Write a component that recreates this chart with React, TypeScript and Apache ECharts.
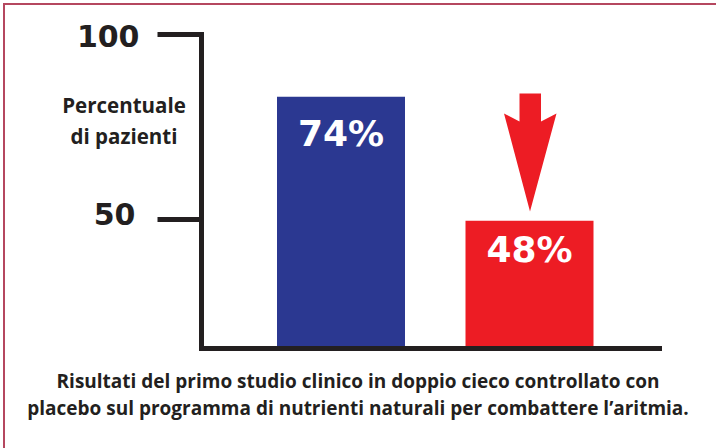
import React, { useEffect, useRef } from "react";
import * as echarts from "echarts";

const categories = ["Placebo", "Programma di nutrienti"];
const percentages = [74, 48];
const barColors = ["#2B3891", "#ED1C24"];
const tickValues = [50, 100];
const yTitleLines = ["Percentuale", "di pazienti"];
const captionLines = [
  "Risultati del primo studio clinico in doppio cieco controllato con",
  "placebo sul programma di nutrienti naturali per combattere l\u2019aritmia.",
];

const INK = "#231F20";

export default function App() {
  const ref = useRef<HTMLDivElement>(null);
  useEffect(() => {
    if (!ref.current) return;
    const chart = echarts.init(ref.current, null, { renderer: "svg" });
    const labelDist = [19, 11];
    chart.setOption({
      animation: false,
      backgroundColor: "#ffffff",
      grid: [
        { left: 201.5, right: 56.5, top: 34.5, bottom: 100 },
        { left: 246.75, right: 92.25, top: 34.5, bottom: 100 },
      ],
      xAxis: [
        {
          type: "value",
          gridIndex: 0,
          min: 0,
          max: 1,
          z: 10,
          axisLine: { show: true, lineStyle: { color: INK, width: 5, cap: "square" } },
          axisTick: { show: false },
          axisLabel: { show: false },
          splitLine: { show: false },
        },
        {
          type: "category",
          gridIndex: 1,
          data: categories,
          show: false,
        },
      ],
      yAxis: [
        {
          type: "value",
          gridIndex: 0,
          min: 15.3,
          max: 100,
          z: 10,
          axisLine: { show: true, lineStyle: { color: INK, width: 5, cap: "square" } },
          axisTick: {
            show: true,
            inside: false,
            length: 44,
            customValues: tickValues,
            lineStyle: { color: INK, width: 5 },
          },
          axisLabel: {
            show: true,
            customValues: tickValues,
            margin: 62,
            formatter: (v: number) => (v === 100 ? "{a|" + v + "}" : "{b|" + v + "}"),
            rich: {
              a: {
                fontFamily: "DejaVu Sans",
                fontWeight: "bold",
                fontSize: 30,
                color: INK,
                padding: [3, 0, 0, 0],
              },
              b: {
                fontFamily: "DejaVu Sans",
                fontWeight: "bold",
                fontSize: 30,
                color: INK,
                padding: [0, 4, 10, 0],
              },
            },
          },
          splitLine: { show: false },
        },
        {
          type: "value",
          gridIndex: 1,
          min: 21.3,
          max: 87.04,
          show: false,
          splitLine: { show: false },
        },
      ],
      series: [
        {
          type: "bar",
          xAxisIndex: 1,
          yAxisIndex: 1,
          barWidth: 128,
          data: percentages.map((v, i) => ({
            value: v,
            itemStyle: { color: barColors[i] },
            label: { distance: labelDist[i] },
          })),
          label: {
            show: true,
            position: "insideTop",
            formatter: "{c}%",
            color: "#ffffff",
            fontFamily: "DejaVu Sans",
            fontWeight: "bold",
            fontSize: 36,
          },
        },
      ],
      graphic: [
        {
          type: "line",
          shape: { x1: 3, y1: 4, x2: 716, y2: 4 },
          style: { stroke: "#B5475F", lineWidth: 2 },
        },
        {
          type: "line",
          shape: { x1: 4, y1: 3, x2: 4, y2: 448 },
          style: { stroke: "#B5475F", lineWidth: 2 },
        },
        {
          type: "polygon",
          shape: {
            points: [
              [519.5, 93.5],
              [541, 93.5],
              [541, 121.5],
              [556.5, 113.5],
              [530, 211.5],
              [504, 113.5],
              [519.5, 121.5],
            ],
          },
          style: { fill: "#ED1C24" },
        },
        ...yTitleLines.map((t, i) => ({
          type: "text",
          x: 124,
          y: 105.3 + i * 31,
          style: {
            text: t,
            fontFamily: "Open Sans",
            fontWeight: "bold",
            fontSize: 20.5,
            fill: INK,
            textAlign: "center",
            textVerticalAlign: "middle",
          },
        })),
        ...captionLines.map((t, i) => ({
          type: "text",
          x: 358,
          y: 381 + i * 27,
          style: {
            text: t,
            fontFamily: "Open Sans",
            fontWeight: "bold",
            fontSize: 19,
            fill: INK,
            textAlign: "center",
            textVerticalAlign: "middle",
          },
        })),
      ],
    });
    return () => chart.dispose();
  }, []);
  return (
    <div
      ref={ref}
      style={{ position: "fixed", left: 0, top: 0, width: 716, height: 448 }}
    />
  );
}
